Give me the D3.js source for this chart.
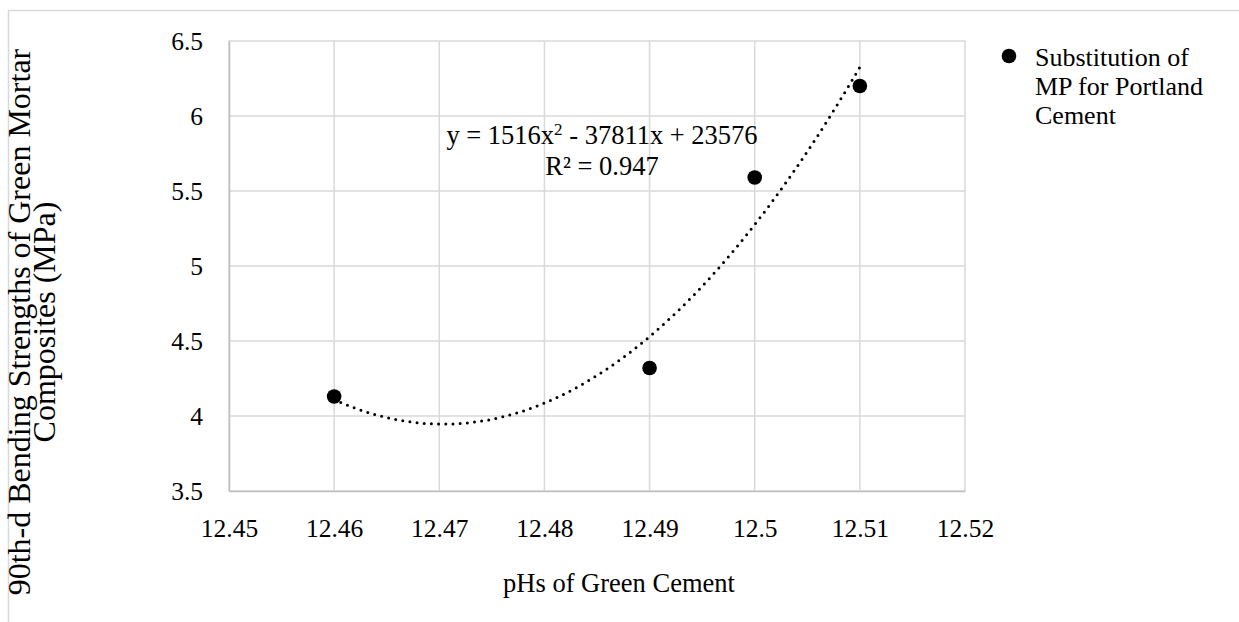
<!DOCTYPE html>
<html>
<head>
<meta charset="utf-8">
<script src="https://cdn.jsdelivr.net/npm/d3@7"></script>
<style>
  body { margin: 0; background: #fff; }
  svg text { font-family: "Liberation Serif", "Times New Roman", serif; fill: #000; }
  svg .tick text { font-family: "Liberation Serif", "Times New Roman", serif !important; }
</style>
</head>
<body>
<div id="chart"></div>
<script>
// data
const phValues = [12.46, 12.49, 12.5, 12.51]
const strengthValues = [4.13, 4.32, 5.59, 6.2]
const xTicks = [12.45, 12.46, 12.47, 12.48, 12.49, 12.5, 12.51, 12.52]
const yTicks = [3.5, 4, 4.5, 5, 5.5, 6, 6.5]
const legendLines = ["Substitution of", "MP for Portland", "Cement"]
const yTitleLines = ["90th-d Bending Strengths of Green Mortar", "Composites (MPa)"]
const xTitle = "pHs of Green Cement"
const eqMain = ["y = 1516x", "2", " - 37811x + 23576"]
const r2Label = "R² = 0.947"

const width = 1239,
  height = 622
const margin = { top: 41, right: 274, bottom: 131, left: 229 }
const fontSize = 26

const svg = d3
  .select("#chart")
  .append("svg")
  .attr("width", width)
  .attr("height", height)
  .attr("viewBox", [0, 0, width, height])

// outer chart border (only top / left visible)
svg
  .append("path")
  .attr("d", `M8.5,${height + 2}V10.5H${width + 2}`)
  .attr("fill", "none")
  .attr("stroke", "#d9d9d9")
  .attr("stroke-width", 1.5)

const x = d3
  .scaleLinear()
  .domain([12.45, 12.52])
  .range([margin.left, width - margin.right])
const y = d3
  .scaleLinear()
  .domain([3.5, 6.5])
  .range([height - margin.bottom, margin.top])

// grid
const grid = svg.append("g").attr("stroke", "#d9d9d9").attr("stroke-width", 1.5)
grid
  .selectAll(".gx")
  .data(xTicks)
  .join("line")
  .attr("x1", d => x(d))
  .attr("x2", d => x(d))
  .attr("y1", y(6.5))
  .attr("y2", y(3.5))
grid
  .selectAll(".gy")
  .data(yTicks)
  .join("line")
  .attr("x1", x(12.45))
  .attr("x2", x(12.52))
  .attr("y1", d => y(d))
  .attr("y2", d => y(d))

// axes
const xAxis = d3
  .axisBottom(x)
  .tickValues(xTicks)
  .tickSize(0)
  .tickPadding(28)
  .tickFormat(d3.format(""))
const yAxis = d3
  .axisLeft(y)
  .tickValues(yTicks)
  .tickSize(0)
  .tickPadding(26)
  .tickFormat(d3.format(""))

function styleAxis(g) {
  g.attr("font-family", "Liberation Serif").attr("font-size", 25.5)
  g.select(".domain").attr("stroke", "#bfbfbf").attr("stroke-width", 1.5)
  g.selectAll(".tick text")
    .attr("font-family", "Liberation Serif")
    .attr("font-size", 25.5)
    .attr("fill", "#000")
}

svg
  .append("g")
  .attr("transform", `translate(0,${y(3.5)})`)
  .call(xAxis)
  .call(styleAxis)

svg
  .append("g")
  .attr("transform", `translate(${x(12.45)},0)`)
  .call(yAxis)
  .call(styleAxis)

// polynomial (order 2) least-squares trendline, as the spreadsheet does
function quadFit(xs, ys) {
  const x0 = d3.mean(xs)
  const u = xs.map(v => v - x0)
  const s = k => d3.sum(u, v => Math.pow(v, k))
  const t = k => d3.sum(u, (v, i) => Math.pow(v, k) * ys[i])
  const A = [
    [xs.length, s(1), s(2), t(0)],
    [s(1), s(2), s(3), t(1)],
    [s(2), s(3), s(4), t(2)]
  ]
  for (let i = 0; i < 3; i++) {
    for (let j = i + 1; j < 3; j++) {
      const f = A[j][i] / A[i][i]
      for (let k = i; k < 4; k++) A[j][k] -= f * A[i][k]
    }
  }
  const c = [0, 0, 0]
  for (let i = 2; i >= 0; i--) {
    let v = A[i][3]
    for (let k = i + 1; k < 3; k++) v -= A[i][k] * c[k]
    c[i] = v / A[i][i]
  }
  return v => c[0] + c[1] * (v - x0) + c[2] * (v - x0) * (v - x0)
}
const fit = quadFit(phValues, strengthValues)
const [xmin, xmax] = d3.extent(phValues)
const fitX = d3.range(0, 101).map(i => xmin + ((xmax - xmin) * i) / 100)

svg
  .append("path")
  .attr("fill", "none")
  .attr("stroke", "#000")
  .attr("stroke-width", 3)
  .attr("stroke-linecap", "round")
  .attr("stroke-dasharray", "0,7.2")
  .attr(
    "d",
    d3
      .line()
      .x(d => x(d))
      .y(d => y(fit(d)))(fitX)
  )

// points
svg
  .append("g")
  .selectAll("circle")
  .data(phValues)
  .join("circle")
  .attr("cx", d => x(d))
  .attr("cy", (d, i) => y(strengthValues[i]))
  .attr("r", 7.3)
  .attr("fill", "#000")

// trendline label
const eq = svg
  .append("text")
  .attr("x", 602)
  .attr("y", 144)
  .attr("text-anchor", "middle")
  .style("font-size", "26.5px")
eq.append("tspan").text(eqMain[0])
eq.append("tspan").attr("dy", -9).style("font-size", "17px").text(eqMain[1])
eq.append("tspan").attr("dy", 9).text(eqMain[2])

svg
  .append("text")
  .attr("x", 602)
  .attr("y", 175)
  .attr("text-anchor", "middle")
  .style("font-size", "26.5px")
  .text(r2Label)

// axis titles
svg
  .append("text")
  .attr("x", 619)
  .attr("y", 592)
  .attr("text-anchor", "middle")
  .style("font-size", "26.5px")
  .text(xTitle)

svg
  .append("g")
  .attr("transform", "translate(19,322) rotate(-90)")
  .selectAll("text")
  .data(yTitleLines)
  .join("text")
  .attr("x", 0)
  .attr("y", (d, i) => i * 25)
  .attr("dy", "0.35em")
  .attr("text-anchor", "middle")
  .style("font-size", "32px")
  .text(d => d)

// legend
svg
  .append("circle")
  .attr("cx", 1009)
  .attr("cy", 56)
  .attr("r", 7.3)
  .attr("fill", "#000")
svg
  .append("g")
  .selectAll("text")
  .data(legendLines)
  .join("text")
  .attr("x", 1035)
  .attr("y", (d, i) => 66 + i * 29)
  .style("font-size", fontSize + "px")
  .text(d => d)
</script>
</body>
</html>
